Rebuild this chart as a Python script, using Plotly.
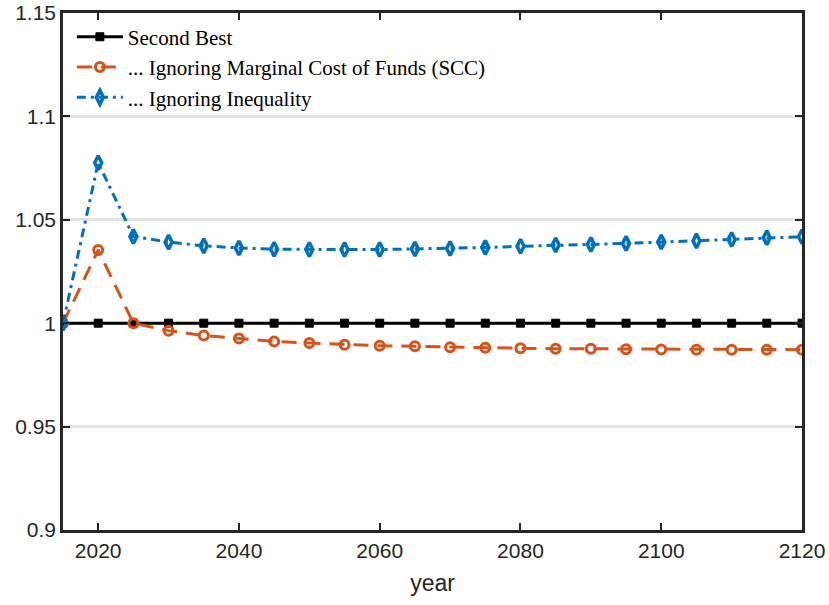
import plotly.graph_objects as go

years = list(range(2015, 2121, 5))
second_best = [1.0] * len(years)
ignoring_mcf = [1.0, 1.0354, 1.0, 0.9964, 0.9940, 0.9926, 0.9912, 0.9904, 0.9896,
                0.9891, 0.9888, 0.9884, 0.9881, 0.9879, 0.9877, 0.9876, 0.9874,
                0.9873, 0.9872, 0.9872, 0.9872, 0.9872]
ignoring_ineq = [1.0, 1.0776, 1.0419, 1.0392, 1.0374, 1.0364, 1.0358, 1.0356, 1.0356,
                 1.0356, 1.0359, 1.0361, 1.0366, 1.0372, 1.0378, 1.0381, 1.0386,
                 1.0393, 1.0398, 1.0405, 1.0413, 1.0418]

names = ["Second Best", "... Ignoring Marginal Cost of Funds (SCC)", "... Ignoring Inequality"]
x_ticks = [2020, 2040, 2060, 2080, 2100, 2120]
y_ticks = [0.9, 0.95, 1.0, 1.05, 1.1, 1.15]
y_ticktext = ["0.9", "0.95", "1", "1.05", "1.1", "1.15"]

BLACK = "#000000"
ORANGE = "#D95319"
BLUE = "#0072BD"

fig = go.Figure()
fig.add_trace(go.Scatter(
    x=years, y=second_best, name=names[0], mode="lines+markers",
    line=dict(color=BLACK, width=3),
    marker=dict(symbol="square", size=8, color=BLACK, line=dict(color=BLACK, width=1)),
))
fig.add_trace(go.Scatter(
    x=years, y=ignoring_mcf, name=names[1], mode="lines+markers",
    line=dict(color=ORANGE, width=3, dash="15px,9px"),
    marker=dict(symbol="circle-open", size=9, color=ORANGE, line=dict(color=ORANGE, width=3)),
))
fig.add_trace(go.Scatter(
    x=years, y=ignoring_ineq, name=names[2], mode="lines+markers",
    line=dict(color=BLUE, width=3, dash="9px,5px,3px,5px"),
    marker=dict(symbol="diamond-tall-open", size=10, color=BLUE, line=dict(color=BLUE, width=3.5)),
))

axis_color = "#262626"
fig.update_layout(
    width=829, height=605,
    margin=dict(l=63, r=27, t=13, b=75),
    paper_bgcolor="white", plot_bgcolor="white",
    showlegend=True,
    legend=dict(
        x=0.012, y=0.993, xanchor="left", yanchor="top",
        bgcolor="rgba(255,255,255,0)", borderwidth=0,
        font=dict(family="Liberation Serif", size=21, color="#000000"),
        tracegroupgap=0, itemwidth=46,
    ),
    xaxis=dict(
        range=[2015, 2120], tickvals=x_ticks, automargin=False,
        showgrid=False, zeroline=False,
        showline=True, linecolor=axis_color, linewidth=2.5, mirror="allticks",
        ticks="inside", ticklen=7, tickwidth=2, tickcolor=axis_color,
        tickfont=dict(family="Liberation Sans", size=21, color="#262626"),
        title=dict(text="year", font=dict(family="Liberation Sans", size=23, color="#262626"), standoff=14),
    ),
    yaxis=dict(
        range=[0.9, 1.15], tickvals=y_ticks, ticktext=y_ticktext, automargin=False,
        showgrid=True, gridcolor="#e3e3e3", gridwidth=2.5, zeroline=False,
        showline=True, linecolor=axis_color, linewidth=2.5, mirror="allticks",
        ticks="inside", ticklen=7, tickwidth=2, tickcolor=axis_color,
        tickfont=dict(family="Liberation Sans", size=21, color="#262626"),
    ),
)

fig.write_html("out.html")
